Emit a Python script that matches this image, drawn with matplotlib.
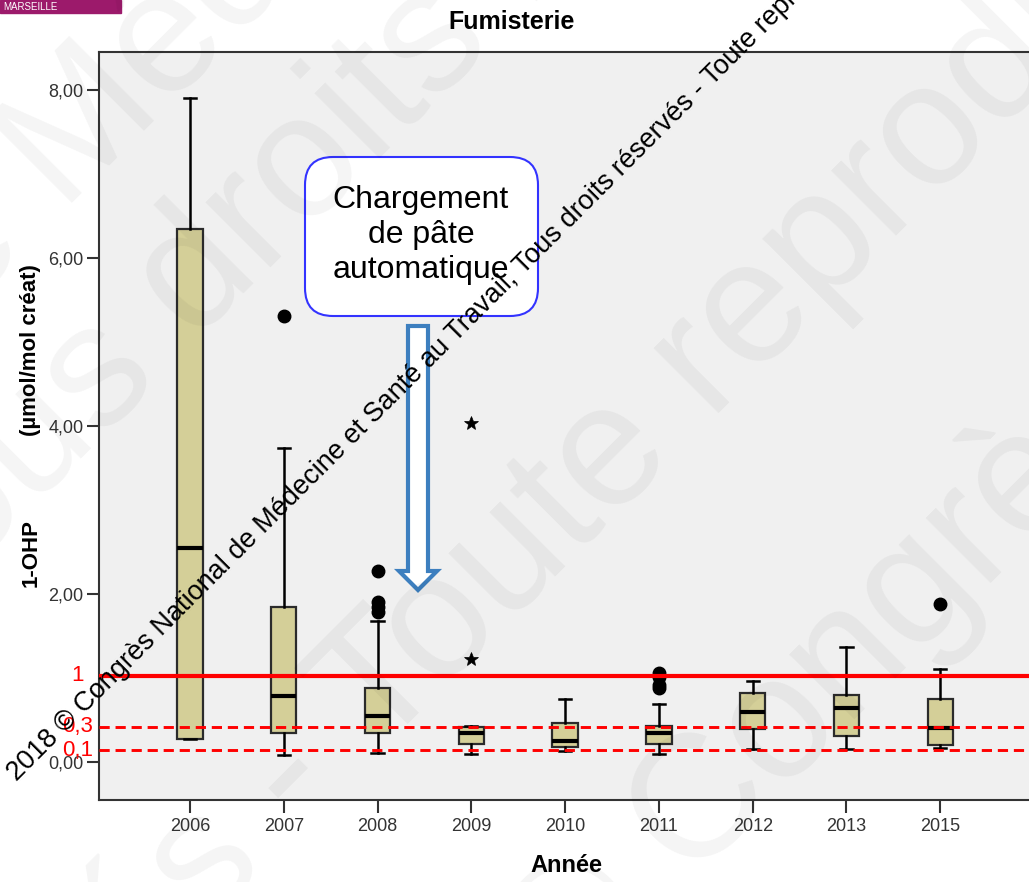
import matplotlib
matplotlib.use('Agg')
import matplotlib.pyplot as plt
import numpy as np
from matplotlib.patches import FancyBboxPatch, Polygon, Rectangle

plt.rcParams['font.family'] = ['Liberation Sans', 'DejaVu Sans']

# box statistics (1-OHP, µmol/mol créat)
years = ['2006', '2007', '2008', '2009', '2010', '2011', '2012', '2013', '2015']
q1 = [0.28, 0.35, 0.34, 0.22, 0.18, 0.22, 0.39, 0.31, 0.20]
med = [2.55, 0.79, 0.55, 0.35, 0.25, 0.34, 0.59, 0.64, 0.40]
q3 = [6.35, 1.84, 0.88, 0.42, 0.47, 0.43, 0.82, 0.80, 0.75]
whislo = [0.27, 0.08, 0.11, 0.10, 0.13, 0.10, 0.16, 0.16, 0.17]
whishi = [7.90, 3.74, 1.68, 0.43, 0.75, 0.69, 0.96, 1.37, 1.11]

# outliers (circles) and extremes (stars)
circle_years = ['2007', '2008', '2008', '2008', '2008', '2011', '2011', '2011', '2011', '2015']
circle_vals = [5.31, 2.27, 1.90, 1.84, 1.79, 1.06, 1.01, 0.92, 0.88, 1.88]
star_years = ['2009', '2009']
star_vals = [4.03, 1.23]

# hand-drawn reference lines
ref_levels = [1.03, 0.42, 0.14]
ref_labels = ['1', '0,3', '0,1']

fig = plt.figure(figsize=(10.29, 8.82), dpi=100)
ax = fig.add_axes([99 / 1029, 82 / 882, 936 / 1029, 748 / 882])
ax.set_facecolor('#f0f0f0')

pos = np.arange(1, len(years) + 1)
stats = [dict(med=m, q1=a, q3=b, whislo=lo, whishi=hi, fliers=[])
         for m, a, b, lo, hi in zip(med, q1, q3, whislo, whishi)]
ax.bxp(stats, positions=pos, widths=0.27, patch_artist=True, showfliers=False,
       boxprops=dict(facecolor='#d4cf98', edgecolor='#2b2b2b', linewidth=1.6),
       medianprops=dict(color='black', linewidth=3),
       whiskerprops=dict(color='black', linewidth=1.8),
       capprops=dict(color='black', linewidth=1.8), capwidths=0.13)

cx = [years.index(y) + 1 for y in circle_years]
ax.plot(cx, circle_vals, 'o', color='black', markersize=9, zorder=4)
sx = [years.index(y) + 1 for y in star_years]
ax.plot(sx, star_vals, '*', color='black', markersize=10, markeredgewidth=0.5, zorder=4)

# reference lines with red labels on the left
for i, (lev, lab) in enumerate(zip(ref_levels, ref_labels)):
    if i == 0:
        ax.axhline(lev, color='red', lw=3, zorder=5)
    else:
        ax.axhline(lev, color='red', lw=2.1, dashes=(3.5, 2), zorder=5)
    ax.text(-0.20, lev, lab, color='red', fontsize=16, ha='center', va='center', clip_on=False)

ax.set_xlim(0.03, 10.01)
ax.set_ylim(-0.452, 8.452)
ax.set_xticks(pos)
ax.set_xticklabels(years)
yt = [0, 2, 4, 6, 8]
ax.set_yticks(yt)
ax.set_yticklabels([f'{v:.2f}'.replace('.', ',') for v in yt])
ax.tick_params(axis='both', direction='out', length=9, width=1.5, colors='#333333',
               labelsize=13, pad=2)
ax.tick_params(axis='x', pad=4)
for s in ax.spines.values():
    s.set_color('#333333')
    s.set_linewidth(1.5)

fig.text(512 / 1029, 1 - 22 / 882, 'Fumisterie', ha='center', va='center',
         fontsize=18, fontweight='bold')
fig.text(566 / 1029, 1 - 865 / 882, 'Année', ha='center', va='center',
         fontsize=17, fontweight='bold')
fig.text(31 / 1029, 1 - 553 / 882, '1-OHP', ha='center', va='center', rotation=90,
         fontsize=16, fontweight='bold')
fig.text(31 / 1029, 1 - 350 / 882, '(µmol/mol créat)', ha='center', va='center',
         rotation=90, fontsize=16, fontweight='bold')

# overlay in pixel units for annotation and watermarks
ov = fig.add_axes([0, 0, 1, 1], zorder=5)
ov.set_xlim(0, 1029)
ov.set_ylim(882, 0)
ov.axis('off')
ov.patch.set_visible(False)

ov.add_patch(Rectangle((0, 0), 121, 13, color='#9c1a6b'))
ov.text(3, 7, 'MARSEILLE', color='white', fontsize=7, va='center', ha='left')

ov.add_patch(FancyBboxPatch((305, 157), 233, 159,
                            boxstyle='round,pad=0,rounding_size=28',
                            fc='white', ec='#3333ff', lw=1.5))
ov.text(421, 235, 'Chargement\nde pâte\nautomatique', ha='center', va='center',
        fontsize=23, linespacing=1.22)
ov.add_patch(Polygon([(408, 326), (428, 326), (428, 571), (437, 571), (418, 590),
                      (399, 571), (408, 571)], closed=True, fc='white', ec='#3d7fbf',
                     lw=3, joinstyle='miter'))

# faint large watermark
wm = dict(rotation=45, rotation_mode='anchor', va='baseline', fontsize=125,
          color='black', alpha=0.045, zorder=8)
for anchor, pre, post in [((63, 213), 'Congrès National de ', 'Médecine et Santé'),
                          ((195, 344), 'Travail, Tous ', 'droits réservés'),
                          ((377, 756), 'réservés - ', 'Toute reproduction'),
                          ((690, 885), 'interdite - © ', 'Congrès National')]:
    ov.text(anchor[0], anchor[1], pre, ha='right', **wm)
    ov.text(anchor[0], anchor[1], post, ha='left', **wm)

ov.text(17, 782, '2018 © Congrès National de Médecine et Santé au Travail, '
        'Tous droits réservés - Toute reproduction interdite',
        rotation=45, rotation_mode='anchor', ha='left', va='baseline',
        fontsize=19.5, color='black', zorder=10)

fig.savefig('out.png', dpi=100)
